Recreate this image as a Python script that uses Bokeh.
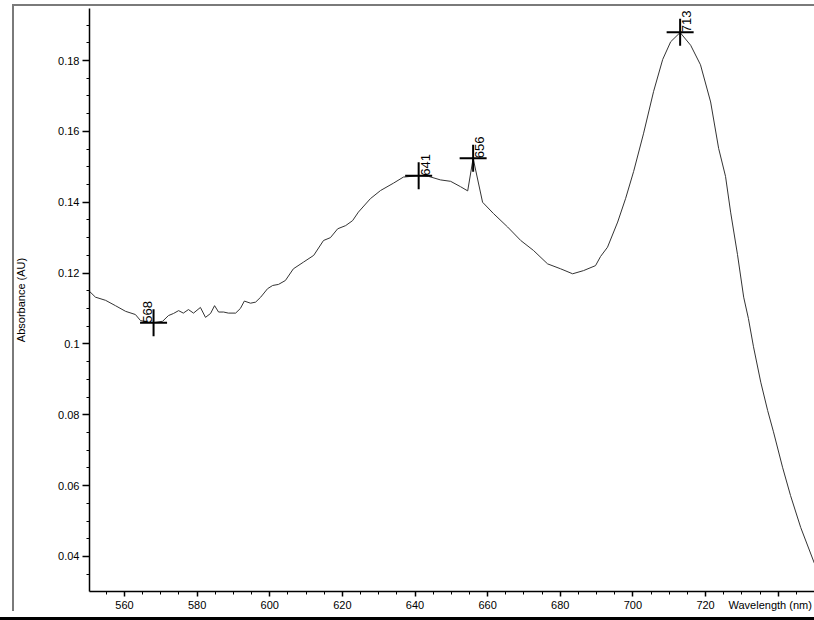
import math
from bokeh.plotting import figure
from bokeh.models import (SingleIntervalTicker, FixedTicker, CustomJSTickFormatter,
                          LinearAxis, Range1d)
from bokeh.core.properties import value
from bokeh.embed import file_html
from bokeh.resources import INLINE

# ---- data ----
wavelength = [550.4, 552.0, 554.8, 557.5, 560.3, 563.0, 564.4, 566.6, 568.0, 570.5,
              572.1, 573.5, 574.9, 576.2, 577.6, 579.0, 580.9, 582.3, 583.7, 584.8,
              585.9, 587.3, 588.6, 590.6, 591.9, 593.0, 594.7, 596.1, 597.5, 599.4,
              600.8, 602.4, 604.3, 606.5, 609.3, 612.1, 614.8, 616.7, 618.7, 620.9,
              622.8, 624.4, 627.7, 630.5, 634.1, 636.8, 641.0, 643.7, 647.0, 649.8,
              652.5, 654.5, 656.0, 658.6, 661.6, 665.5, 669.1, 672.6, 676.5, 680.1,
              683.4, 686.4, 689.7, 691.1, 693.0, 695.8, 698.0, 700.2, 702.9, 705.7,
              708.2, 710.4, 713.0, 715.9, 718.6, 721.4, 723.6, 725.5, 726.9, 728.8,
              730.5, 731.8, 733.2, 735.2, 737.1, 738.7, 741.2, 743.4, 746.2, 750.0]

absorbance = [0.1148, 0.1132, 0.1123, 0.1108, 0.1092, 0.1083, 0.1066, 0.1061, 0.1060, 0.1064,
              0.1080, 0.1086, 0.1094, 0.1087, 0.1097, 0.1087, 0.1103, 0.1075, 0.1086, 0.1108,
              0.1090, 0.1090, 0.1087, 0.1087, 0.1100, 0.1121, 0.1115, 0.1118, 0.1132, 0.1156,
              0.1165, 0.1168, 0.1179, 0.1212, 0.1231, 0.1250, 0.1292, 0.1300, 0.1325, 0.1334,
              0.1348, 0.1372, 0.1410, 0.1433, 0.1454, 0.1471, 0.1475, 0.1473, 0.1463, 0.1459,
              0.1444, 0.1432, 0.1524, 0.1400, 0.1368, 0.1330, 0.1292, 0.1264, 0.1226, 0.1212,
              0.1198, 0.1207, 0.1221, 0.1247, 0.1273, 0.1344, 0.1411, 0.1487, 0.1593, 0.1713,
              0.1803, 0.1853, 0.1879, 0.1843, 0.1788, 0.1683, 0.1552, 0.1473, 0.1372, 0.1252,
              0.1132, 0.1072, 0.0992, 0.0892, 0.0812, 0.0752, 0.0652, 0.0572, 0.0482, 0.0380]

peak_nm = [568, 641, 656, 713]
peak_abs = [0.1060, 0.1475, 0.1524, 0.1880]
peak_labels = ["568", "641", "656", "713"]

x_tick_labels = [560, 580, 600, 620, 640, 660, 680, 700, 720]
x_title_pos = 737.8
x_axis_label = "Wavelength (nm)"
y_axis_label = "Absorbance (AU)"

FONT = "Liberation Sans"

p = figure(width=814, height=620,
           x_range=Range1d(550.36, 750.0), y_range=Range1d(0.03012, 0.19468),
           output_backend="svg", toolbar_location=None,
           min_border_left=89, min_border_right=0, min_border_top=8, min_border_bottom=29)
p.outline_line_color = None
p.grid.visible = False
p.background_fill_color = "white"
p.border_fill_alpha = 0
# screenshot frame lines (grey box edge left/top, black bar at the bottom)
p.styles = {
    "background-color": "white",
    "background-image": ("linear-gradient(#7a7a7a,#7a7a7a), "
                         "linear-gradient(#7a7a7a,#7a7a7a), "
                         "linear-gradient(#000,#000)"),
    "background-position": "12px 4px, 12px 4px, 0px 617px",
    "background-size": "2px 607px, 802px 2px, 814px 3px",
    "background-repeat": "no-repeat",
}

# spectrum
p.line(wavelength, absorbance, line_color="#333333", line_width=1)

# peak markers
p.scatter(peak_nm, peak_abs, marker="cross", size=27, line_width=2, line_color="black")

p.text(x=peak_nm[:1], y=peak_abs[:1], text=peak_labels[:1], angle=math.pi / 2,
       text_align="left", text_baseline="bottom", x_offset=-2,
       text_font=value(FONT), text_font_size="13px", text_color="black")
p.text(x=peak_nm[1:], y=peak_abs[1:], text=peak_labels[1:], angle=math.pi / 2,
       text_align="left", text_baseline="top", x_offset=2,
       text_font=value(FONT), text_font_size="13px", text_color="black")

# x axis: tick marks only
xa = p.xaxis[0]
xa.ticker = SingleIntervalTicker(interval=20, num_minor_ticks=4)
xa.formatter = CustomJSTickFormatter(code="return '';")
xa.major_label_text_font_size = "0px"
xa.major_label_standoff = 0
xa.major_tick_out = 5

# second x axis below it: labels only (incl. the axis title in the label row)
xl = LinearAxis(ticker=FixedTicker(ticks=x_tick_labels + [x_title_pos], minor_ticks=[]),
                formatter=CustomJSTickFormatter(
                    args=dict(title=x_axis_label),
                    code="return tick > 730 ? title : tick.toFixed(0);"))
xl.axis_line_color = None
xl.major_tick_line_color = None
xl.minor_tick_line_color = None
xl.major_tick_out = 0
xl.major_tick_in = 0
xl.minor_tick_out = 0
xl.minor_tick_in = 0
xl.major_label_standoff = 2
p.add_layout(xl, "below")

p.yaxis.ticker = SingleIntervalTicker(interval=0.02, num_minor_ticks=4)
p.yaxis.formatter = CustomJSTickFormatter(
    code="return String(Number(tick.toFixed(3)));")
p.yaxis.major_tick_out = 7
p.yaxis.major_label_standoff = 3

for ax in (xa, p.yaxis[0]):
    ax.axis_line_color = "black"
    ax.axis_line_width = 1.5
    ax.major_tick_line_color = "black"
    ax.major_tick_line_width = 1.5
    ax.minor_tick_line_color = "black"
    ax.minor_tick_line_width = 1
    ax.major_tick_in = 0
    ax.minor_tick_in = 0
    ax.minor_tick_out = 3

for ax in (xl, p.yaxis[0]):
    ax.major_label_text_font = FONT
    ax.major_label_text_font_size = "11px"
    ax.major_label_text_color = "black"

p.yaxis.axis_label = y_axis_label
p.yaxis.axis_label_text_font = FONT
p.yaxis.axis_label_text_font_size = "11px"
p.yaxis.axis_label_text_font_style = "normal"
p.yaxis.axis_label_text_color = "black"
p.yaxis.axis_label_standoff = 28

open("out.html", "w").write(file_html(p, INLINE))
